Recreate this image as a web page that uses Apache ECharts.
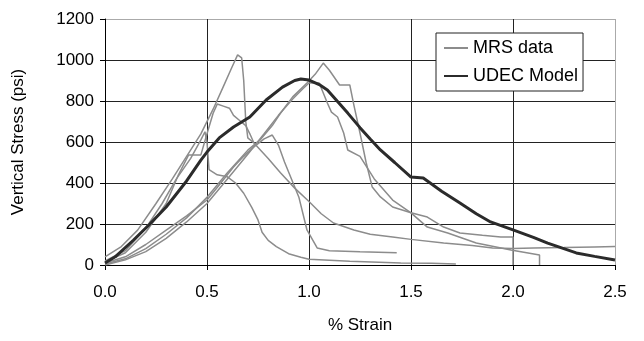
<!DOCTYPE html>
<html>
<head>
<meta charset="utf-8">
<script src="https://cdn.jsdelivr.net/npm/echarts@6/dist/echarts.min.js"></script>
<style>
  html, body {margin: 0; padding: 0; background: #fff;}
  #chart {width: 644px; height: 341px;}
</style>
</head>
<body>
<div id="chart"></div>
<script>
// tick labels / axis range
const xTicks = [0, 0.5, 1.0, 1.5, 2.0, 2.5];
const yTicks = [0, 200, 400, 600, 800, 1000, 1200];

// MRS test curves, [strain %, stress psi]
const mrs1 = [[0,40],[0.08,90],[0.16,170],[0.25,300],[0.33,420],[0.4,530],[0.47,640],[0.53,760],[0.58,870],[0.62,960],[0.65,1025],[0.67,1010],[0.68,900],[0.69,700],[0.7,620],[0.73,595],[0.8,520],[0.86,450],[0.93,375],[1.0,310],[1.06,250],[1.12,205],[1.22,171],[1.3,150],[1.41,137],[1.5,125],[1.66,107],[1.8,95],[1.9,83],[2.0,80],[2.1,83],[2.25,85],[2.4,88],[2.5,90]];
const mrs2 = [[0,15],[0.1,60],[0.2,160],[0.3,300],[0.36,440],[0.41,537],[0.47,537],[0.5,640],[0.53,740],[0.55,785],[0.58,775],[0.61,765],[0.63,730],[0.66,705],[0.69,680],[0.71,640],[0.73,595]];
const mrs3 = [[0,20],[0.1,70],[0.2,180],[0.28,300],[0.35,420],[0.42,520],[0.47,610],[0.49,650],[0.5,600],[0.51,465],[0.55,440],[0.6,430],[0.64,400],[0.68,350],[0.72,280],[0.75,220],[0.77,160],[0.8,120],[0.84,90],[0.9,55],[0.96,38],[1.0,28],[1.2,18],[1.45,10],[1.6,8],[1.72,5]];
const mrs4 = [[0,10],[0.1,40],[0.2,100],[0.3,170],[0.4,240],[0.5,317],[0.56,390],[0.63,478],[0.68,530],[0.73,576],[0.78,615],[0.82,634],[0.85,585],[0.88,502],[0.92,405],[0.95,332],[0.99,171],[1.04,83],[1.1,70],[1.25,65],[1.43,60]];
const mrs5 = [[0,5],[0.1,30],[0.2,80],[0.3,150],[0.4,230],[0.5,330],[0.6,450],[0.7,560],[0.76,610],[0.82,680],[0.86,740],[0.92,820],[0.99,888],[1.03,930],[1.07,985],[1.1,950],[1.15,878],[1.2,878],[1.22,780],[1.25,644],[1.28,500],[1.31,380],[1.35,332],[1.41,283],[1.5,255],[1.58,234],[1.66,185],[1.74,156],[1.85,145],[1.94,137],[2.0,137],[2.0,0]];
const mrs6 = [[0,0],[0.1,25],[0.2,65],[0.3,130],[0.4,210],[0.5,300],[0.6,420],[0.7,540],[0.78,640],[0.85,730],[0.92,810],[0.97,860],[1.0,888],[1.05,888],[1.09,790],[1.11,746],[1.14,722],[1.17,644],[1.19,561],[1.25,530],[1.32,420],[1.41,317],[1.5,254],[1.58,185],[1.68,156],[1.82,107],[1.99,73],[2.13,49],[2.13,0]];

// UDEC model curve
const udec = [[0,10],[0.05,40],[0.14,122],[0.22,200],[0.3,283],[0.4,410],[0.47,512],[0.5,551],[0.56,620],[0.63,673],[0.71,722],[0.79,805],[0.87,868],[0.93,900],[0.96,907],[1.0,902],[1.05,880],[1.09,854],[1.19,741],[1.25,670],[1.3,615],[1.35,561],[1.42,500],[1.5,429],[1.56,424],[1.65,360],[1.74,302],[1.82,250],[1.89,210],[2.0,171],[2.1,135],[2.17,107],[2.31,59],[2.4,42],[2.5,24]];

const font = 'Liberation Sans, Arial, sans-serif';
const myChart = echarts.init(document.getElementById('chart'));

const mrsSeries = [mrs1, mrs2, mrs3, mrs4, mrs5, mrs6].map(d => ({
    name: 'MRS data',
    type: 'line',
    data: d,
    symbol: 'none',
    lineStyle: {color: '#8c8c8c', width: 1.5},
    itemStyle: {color: '#8c8c8c'}
}));

myChart.setOption({
    animation: false,
    grid: {left: 105, right: 29, top: 19, bottom: 76},
    legend: {
        data: ['MRS data', 'UDEC Model'],
        orient: 'vertical',
        left: 436,
        top: 33,
        padding: [6, 5, 6, 7],
        itemGap: 10,
        itemWidth: 24,
        itemHeight: 14,
        borderColor: '#222',
        borderWidth: 1,
        backgroundColor: '#fff',
        itemStyle: {opacity: 0},
        textStyle: {fontFamily: font, fontSize: 18, color: '#000'}
    },
    xAxis: {
        type: 'value',
        min: xTicks[0],
        max: xTicks[xTicks.length - 1],
        interval: 0.5,
        name: '% Strain',
        nameLocation: 'middle',
        nameGap: 52,
        nameTextStyle: {fontFamily: font, fontSize: 17, color: '#000'},
        axisLine: {lineStyle: {color: '#000', width: 1}},
        axisTick: {show: true, inside: false, length: 5, lineStyle: {color: '#000'}},
        axisLabel: {fontFamily: font, fontSize: 17, color: '#000', margin: 19, formatter: v => v.toFixed(1)},
        splitLine: {show: true, lineStyle: {color: ['#222', '#222', '#222', '#222', '#222', '#aaa'], width: 1}}
    },
    yAxis: {
        type: 'value',
        min: yTicks[0],
        max: yTicks[yTicks.length - 1],
        interval: 200,
        name: 'Vertical Stress (psi)',
        nameLocation: 'middle',
        nameGap: 78,
        nameTextStyle: {fontFamily: font, fontSize: 17, color: '#000'},
        axisLine: {show: true, lineStyle: {color: '#000', width: 1}},
        axisTick: {show: true, inside: false, length: 5, lineStyle: {color: '#000'}},
        axisLabel: {fontFamily: font, fontSize: 17, color: '#000', margin: 11, formatter: v => String(v)},
        splitLine: {show: true, lineStyle: {color: ['#222', '#222', '#222', '#222', '#222', '#222', '#aaa'], width: 1}}
    },
    series: [
        ...mrsSeries,
        {
            name: 'UDEC Model',
            type: 'line',
            data: udec,
            symbol: 'none',
            z: 5,
            lineStyle: {color: '#2b2b2b', width: 3},
            itemStyle: {color: '#2b2b2b'}
        }
    ]
});
</script>
</body>
</html>
